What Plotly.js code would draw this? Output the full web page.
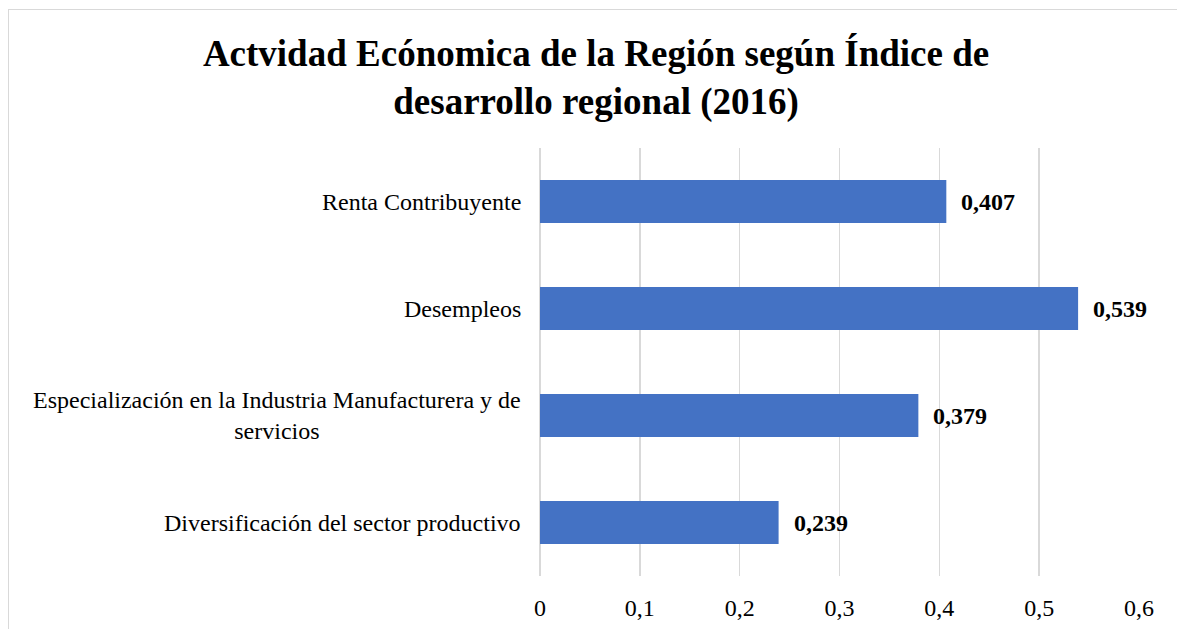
<!DOCTYPE html>
<html>
<head>
<meta charset="utf-8">
<script src="https://cdn.plot.ly/plotly-3.0.1.min.js"></script>
<style>
  html, body { margin: 0; padding: 0; background: #fff; overflow: hidden; }
  #wrap { position: relative; width: 1177px; height: 629px; }
  #chart { width: 1177px; height: 629px; }
  #frame { position: absolute; left: 8px; top: 9px; width: 1300px; height: 800px;
           border: 1px solid #d9d9d9; pointer-events: none; box-sizing: border-box; }
</style>
</head>
<body>
<div id="wrap">
  <div id="chart"></div>
  <div id="frame"></div>
</div>
<script>
// Data (top to bottom)
const categories = [
  "Renta Contribuyente",
  "Desempleos",
  "Especialización en la Industria Manufacturera y de<br>servicios",
  "Diversificación del sector productivo"
];
const values = [0.407, 0.539, 0.379, 0.239];
const valueLabels = ["0,407", "0,539", "0,379", "0,239"];
const tickVals = [0, 0.1, 0.2, 0.3, 0.4, 0.5, 0.6];
const tickText = ["0", "0,1", "0,2", "0,3", "0,4", "0,5", "0,6"];
const titleText = "Actvidad Ecónomica de la Región según Índice de<br>desarrollo regional (2016)";

const serif = "'Liberation Serif', 'Times New Roman', serif";

const trace = {
  type: "bar",
  orientation: "h",
  x: values,
  y: categories,
  marker: { color: "#4472C4" },
  hoverinfo: "x+y"
};

const annotations = [];
categories.forEach((c, i) => {
  annotations.push({
    xref: "paper", yref: "y", x: 0, y: c,
    xanchor: "right", yanchor: "middle", xshift: -17,
    text: c, showarrow: false, align: "center",
    font: { family: serif, size: 24, color: "#000" }
  });
  annotations.push({
    xref: "x", yref: "y", x: values[i], y: c,
    xanchor: "left", yanchor: "middle", xshift: 13,
    text: "<b>" + valueLabels[i] + "</b>", showarrow: false,
    font: { family: serif, size: 24, color: "#000" }
  });
});

const layout = {
  width: 1177, height: 629,
  margin: { l: 540, r: 38, t: 148, b: 53 },
  paper_bgcolor: "#fff", plot_bgcolor: "#fff",
  showlegend: false,
  bargap: 0.6,
  title: {
    text: "<b>" + titleText + "</b>",
    font: { family: serif, size: 37, color: "#000" },
    xref: "container", x: 0.5064, xanchor: "center",
    yref: "container", y: 1 - 66 / 629, yanchor: "top"
  },
  xaxis: {
    range: [0, 0.6],
    tickvals: tickVals, ticktext: tickText,
    showgrid: true, gridcolor: "#d9d9d9", gridwidth: 1.5,
    zeroline: true, zerolinecolor: "#d9d9d9", zerolinewidth: 1.5,
    showline: false, ticks: "",
    ticklabelstandoff: 15,
    tickfont: { family: serif, size: 24, color: "#000" },
    fixedrange: true
  },
  yaxis: {
    type: "category",
    autorange: "reversed",
    showticklabels: false,
    showgrid: false, zeroline: false, showline: false, ticks: "",
    fixedrange: true
  },
  annotations: annotations
};

Plotly.newPlot("chart", [trace], layout, { displayModeBar: false, staticPlot: true });
</script>
</body>
</html>
